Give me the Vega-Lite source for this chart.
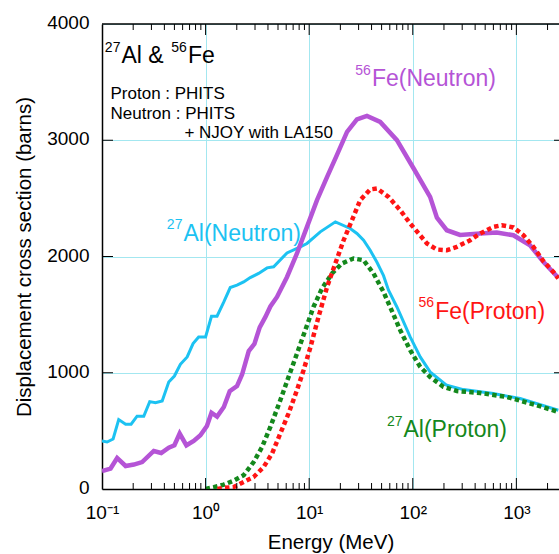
{
  "$schema": "https://vega.github.io/schema/vega-lite/v6.json",
  "width": 457,
  "height": 465,
  "autosize": {"type": "none"},
  "padding": {"left": 102, "top": 24, "right": 0, "bottom": 65},
  "background": "white",
  "config": {
    "view": {"stroke": null},
    "font": "Liberation Sans",
    "axis": {
      "labelFont": "Liberation Sans", "titleFont": "Liberation Sans",
      "labelColor": "black", "titleColor": "black", "titleFontWeight": "normal",
      "domainColor": "black", "domainWidth": 1.5,
      "gridColor": "#a3e7f0", "gridWidth": 1, "gridOpacity": 1
    }
  },
  "datasets": {
    "alN": [
      {"E":0.1,"V":413},{"E":0.112,"V":404},{"E":0.128,"V":430},{"E":0.145,"V":597},{"E":0.169,"V":557},{"E":0.191,"V":557},{"E":0.218,"V":626},{"E":0.253,"V":626},{"E":0.289,"V":752},{"E":0.328,"V":743},{"E":0.381,"V":757},{"E":0.441,"V":921},{"E":0.5,"V":972},{"E":0.571,"V":1073},{"E":0.664,"V":1136},{"E":0.757,"V":1251},{"E":0.857,"V":1308},{"E":1.0,"V":1308},{"E":1.14,"V":1486},{"E":1.29,"V":1486},{"E":1.5,"V":1609},{"E":1.73,"V":1733},{"E":2.01,"V":1753},{"E":2.33,"V":1781},{"E":2.7,"V":1819},{"E":3.25,"V":1854},{"E":3.92,"V":1902},{"E":4.54,"V":1911},{"E":6.11,"V":2031},{"E":8.21,"V":2083},{"E":9.52,"V":2112},{"E":12.8,"V":2212},{"E":17.9,"V":2298},{"E":24.9,"V":2241},{"E":28.9,"V":2198},{"E":33.5,"V":2140},{"E":38.8,"V":2054},{"E":45.1,"V":1950},{"E":52.2,"V":1835},{"E":58.3,"V":1710},{"E":70.3,"V":1566},{"E":94.4,"V":1308},{"E":118,"V":1136},{"E":147,"V":1007},{"E":213,"V":892},{"E":308,"V":855},{"E":600,"V":821},{"E":1087,"V":778},{"E":2540,"V":677}
    ],
    "feN": [
      {"E":0.1,"V":155},{"E":0.121,"V":176},{"E":0.14,"V":267},{"E":0.169,"V":198},{"E":0.203,"V":210},{"E":0.244,"V":232},{"E":0.316,"V":327},{"E":0.373,"V":310},{"E":0.441,"V":356},{"E":0.5,"V":376},{"E":0.562,"V":477},{"E":0.653,"V":376},{"E":0.768,"V":413},{"E":0.891,"V":462},{"E":1.03,"V":542},{"E":1.14,"V":656},{"E":1.29,"V":623},{"E":1.5,"V":706},{"E":1.71,"V":842},{"E":2.01,"V":885},{"E":2.25,"V":985},{"E":2.61,"V":1187},{"E":2.96,"V":1248},{"E":3.33,"V":1390},{"E":3.78,"V":1480},{"E":4.22,"V":1570},{"E":4.89,"V":1652},{"E":6.11,"V":1824},{"E":7.62,"V":2026},{"E":9.52,"V":2255},{"E":11.9,"V":2485},{"E":14.9,"V":2685},{"E":18.5,"V":2872},{"E":23.2,"V":3072},{"E":28.9,"V":3179},{"E":36.1,"V":3210},{"E":48.5,"V":3158},{"E":70.3,"V":3001},{"E":102,"V":2757},{"E":147,"V":2513},{"E":171,"V":2334},{"E":213,"V":2226},{"E":286,"V":2186},{"E":447,"V":2198},{"E":647,"V":2206},{"E":936,"V":2183},{"E":1355,"V":2097},{"E":1820,"V":1954},{"E":2540,"V":1818}
    ],
    "feP": [
      {"E":1.3,"V":0},{"E":1.5,"V":9},{"E":1.87,"V":17},{"E":2.33,"V":60},{"E":2.91,"V":103},{"E":3.63,"V":189},{"E":4.38,"V":305},{"E":5.26,"V":477},{"E":6.32,"V":649},{"E":7.62,"V":849},{"E":8.83,"V":1022},{"E":10.3,"V":1222},{"E":12.3,"V":1480},{"E":14.9,"V":1739},{"E":17.9,"V":1940},{"E":21.5,"V":2140},{"E":25.9,"V":2313},{"E":31.1,"V":2485},{"E":38.8,"V":2577},{"E":45.1,"V":2585},{"E":58.3,"V":2513},{"E":75.7,"V":2398},{"E":94.4,"V":2284},{"E":114,"V":2198},{"E":137,"V":2112},{"E":171,"V":2060},{"E":213,"V":2054},{"E":266,"V":2083},{"E":358,"V":2140},{"E":447,"V":2198},{"E":600,"V":2255},{"E":723,"V":2269},{"E":936,"V":2250},{"E":1169,"V":2183},{"E":1459,"V":2083},{"E":1820,"V":1961},{"E":2275,"V":1867},{"E":2540,"V":1811}
    ],
    "alP": [
      {"E":1.0,"V":0},{"E":1.2,"V":15},{"E":1.5,"V":38},{"E":1.87,"V":72},{"E":2.33,"V":118},{"E":2.91,"V":232},{"E":3.51,"V":361},{"E":4.22,"V":534},{"E":5.26,"V":763},{"E":6.32,"V":964},{"E":7.62,"V":1165},{"E":9.16,"V":1366},{"E":11.0,"V":1566},{"E":13.3,"V":1725},{"E":16.6,"V":1854},{"E":20.7,"V":1940},{"E":26.8,"V":1983},{"E":33.5,"V":1968},{"E":41.8,"V":1854},{"E":52.2,"V":1695},{"E":60.5,"V":1566},{"E":75.7,"V":1366},{"E":94.4,"V":1194},{"E":118,"V":1050},{"E":147,"V":964},{"E":198,"V":878},{"E":266,"V":843},{"E":447,"V":826},{"E":807,"V":792},{"E":1574,"V":720},{"E":2540,"V":663}
    ],
    "labels": [
      {"E":0.154,"V":3664,"text":"27","kind":"sup","s":"title"},
      {"E":0.154,"V":3664,"text":"Al & ","kind":"main","s":"title"},
      {"E":0.675,"V":3664,"text":"56","kind":"sup","s":"title"},
      {"E":0.675,"V":3664,"text":"Fe","kind":"main","s":"title"},
      {"E":0.611,"V":2134,"text":"27","kind":"sup","s":"alN"},
      {"E":0.611,"V":2134,"text":"Al(Neutron)","kind":"main","s":"alN"},
      {"E":40.3,"V":3466,"text":"56","kind":"sup","s":"feN"},
      {"E":40.3,"V":3466,"text":"Fe(Neutron)","kind":"main","s":"feN"},
      {"E":164.4,"V":1466,"text":"56","kind":"sup","s":"feP"},
      {"E":164.4,"V":1466,"text":"Fe(Proton)","kind":"main","s":"feP"},
      {"E":81.3,"V":447,"text":"27","kind":"sup","s":"alP"},
      {"E":81.3,"V":447,"text":"Al(Proton)","kind":"main","s":"alP"}
    ],
    "info": [
      {"E":0.1208,"V":3354,"text":"Proton : PHITS"},
      {"E":0.1208,"V":3182,"text":"Neutron : PHITS"},
      {"E":0.6245,"V":3021,"text":"+ NJOY with LA150"}
    ],
    "xticks": [
      {"E":1,"kind":"major"},{"E":10,"kind":"major"},{"E":100,"kind":"major"},{"E":1000,"kind":"major"},
      {"E":0.2,"kind":"minor"},{"E":0.3,"kind":"minor"},{"E":0.4,"kind":"minor"},{"E":0.5,"kind":"minor"},{"E":0.6,"kind":"minor"},{"E":0.7,"kind":"minor"},{"E":0.8,"kind":"minor"},{"E":0.9,"kind":"minor"},
      {"E":2,"kind":"minor"},{"E":3,"kind":"minor"},{"E":4,"kind":"minor"},{"E":5,"kind":"minor"},{"E":6,"kind":"minor"},{"E":7,"kind":"minor"},{"E":8,"kind":"minor"},{"E":9,"kind":"minor"},
      {"E":20,"kind":"minor"},{"E":30,"kind":"minor"},{"E":40,"kind":"minor"},{"E":50,"kind":"minor"},{"E":60,"kind":"minor"},{"E":70,"kind":"minor"},{"E":80,"kind":"minor"},{"E":90,"kind":"minor"},
      {"E":200,"kind":"minor"},{"E":300,"kind":"minor"},{"E":400,"kind":"minor"},{"E":500,"kind":"minor"},{"E":600,"kind":"minor"},{"E":700,"kind":"minor"},{"E":800,"kind":"minor"},{"E":900,"kind":"minor"},
      {"E":2000,"kind":"minor"}
    ],
    "yticks": [{"V":1000},{"V":2000},{"V":3000}],
    "frame": [{"V":4000}]
  },
  "layer": [
    {
      "data": {"name": "alN"},
      "mark": {"type": "line", "color": "#1cc2f2", "strokeWidth": 3, "clip": true},
      "encoding": {
        "x": {"field": "E", "type": "quantitative",
          "scale": {"type": "log", "domain": [0.1, 2580], "nice": false},
          "axis": {"orient": "bottom", "values": [0.1, 1, 10, 100, 1000],
            "labelExpr": "datum.value < 0.5 ? '10⁻¹' : datum.value < 5 ? '10⁰' : datum.value < 50 ? '10¹' : datum.value < 500 ? '10²' : '10³'",
            "ticks": false, "grid": true, "labelFontSize": 19, "labelPadding": 14,
            "labelFlush": false, "labelOverlap": false,
            "title": "Energy (MeV)", "titleFontSize": 20.5, "titlePadding": 10}},
        "y": {"field": "V", "type": "quantitative",
          "scale": {"domain": [0, 4000], "nice": false},
          "axis": {"orient": "left", "values": [0, 1000, 2000, 3000, 4000], "format": "d",
            "ticks": false, "grid": true, "labelFontSize": 19, "labelPadding": 13, "labelOffset": -1.5,
            "labelFlush": false, "labelOverlap": false,
            "title": "Displacement cross section (barns)", "titleFontSize": 20.5, "titlePadding": 12}}
      }
    },
    {
      "data": {"name": "feN"},
      "mark": {"type": "line", "color": "#b554d6", "strokeWidth": 4.5, "clip": true},
      "encoding": {
        "x": {"field": "E", "type": "quantitative", "axis": null},
        "y": {"field": "V", "type": "quantitative", "axis": null}
      }
    },
    {
      "data": {"name": "alP"},
      "mark": {"type": "line", "color": "#14881c", "strokeWidth": 4.5, "strokeDash": [4.5, 3.2], "clip": true},
      "encoding": {
        "x": {"field": "E", "type": "quantitative", "axis": null},
        "y": {"field": "V", "type": "quantitative", "axis": null}
      }
    },
    {
      "data": {"name": "feP"},
      "mark": {"type": "line", "color": "#ff1414", "strokeWidth": 4.5, "strokeDash": [4.5, 3.2], "clip": true},
      "encoding": {
        "x": {"field": "E", "type": "quantitative", "axis": null},
        "y": {"field": "V", "type": "quantitative", "axis": null}
      }
    },
    {
      "data": {"name": "xticks"},
      "transform": [{"filter": "datum.kind == 'major'"}],
      "layer": [
        {"mark": {"type": "tick", "orient": "vertical", "size": 22, "thickness": 1, "color": "black", "opacity": 1, "clip": true},
         "encoding": {"x": {"field": "E", "type": "quantitative", "axis": null}, "y": {"datum": 0, "type": "quantitative", "axis": null}}},
        {"mark": {"type": "tick", "orient": "vertical", "size": 22, "thickness": 1, "color": "black", "opacity": 1, "clip": true},
         "encoding": {"x": {"field": "E", "type": "quantitative", "axis": null}, "y": {"datum": 4000, "type": "quantitative", "axis": null}}}
      ]
    },
    {
      "data": {"name": "xticks"},
      "transform": [{"filter": "datum.kind == 'minor'"}],
      "layer": [
        {"mark": {"type": "tick", "orient": "vertical", "size": 12, "thickness": 1, "color": "black", "opacity": 1, "clip": true},
         "encoding": {"x": {"field": "E", "type": "quantitative", "axis": null}, "y": {"datum": 0, "type": "quantitative", "axis": null}}},
        {"mark": {"type": "tick", "orient": "vertical", "size": 12, "thickness": 1, "color": "black", "opacity": 1, "clip": true},
         "encoding": {"x": {"field": "E", "type": "quantitative", "axis": null}, "y": {"datum": 4000, "type": "quantitative", "axis": null}}}
      ]
    },
    {
      "data": {"name": "yticks"},
      "layer": [
        {"mark": {"type": "tick", "orient": "horizontal", "size": 22, "thickness": 1, "color": "black", "opacity": 1, "clip": true},
         "encoding": {"y": {"field": "V", "type": "quantitative", "axis": null}, "x": {"datum": 0.1, "type": "quantitative", "axis": null}}},
        {"mark": {"type": "tick", "orient": "horizontal", "size": 10, "thickness": 1, "color": "black", "opacity": 1, "clip": true},
         "encoding": {"y": {"field": "V", "type": "quantitative", "axis": null}, "x": {"datum": 2580, "type": "quantitative", "axis": null}}}
      ]
    },
    {
      "data": {"name": "frame"},
      "mark": {"type": "rule", "color": "black", "strokeWidth": 1.5},
      "encoding": {"y": {"field": "V", "type": "quantitative", "axis": null}}
    },
    {
      "data": {"name": "labels"},
      "transform": [{"filter": "datum.kind == 'sup'"}],
      "mark": {"type": "text", "align": "right", "baseline": "alphabetic", "fontSize": 14, "dy": -11.5, "dx": -1, "font": "Liberation Sans"},
      "encoding": {
        "x": {"field": "E", "type": "quantitative", "axis": null},
        "y": {"field": "V", "type": "quantitative", "axis": null},
        "text": {"field": "text"},
        "color": {"field": "s", "type": "nominal",
          "scale": {"domain": ["title", "alN", "feN", "feP", "alP"], "range": ["#000000", "#1cc2f2", "#b554d6", "#ff1414", "#14881c"]},
          "legend": null}
      }
    },
    {
      "data": {"name": "labels"},
      "transform": [{"filter": "datum.kind == 'main'"}],
      "mark": {"type": "text", "align": "left", "baseline": "alphabetic", "fontSize": 23, "font": "Liberation Sans"},
      "encoding": {
        "x": {"field": "E", "type": "quantitative", "axis": null},
        "y": {"field": "V", "type": "quantitative", "axis": null},
        "text": {"field": "text"},
        "color": {"field": "s", "type": "nominal",
          "scale": {"domain": ["title", "alN", "feN", "feP", "alP"], "range": ["#000000", "#1cc2f2", "#b554d6", "#ff1414", "#14881c"]},
          "legend": null}
      }
    },
    {
      "data": {"name": "info"},
      "mark": {"type": "text", "align": "left", "baseline": "alphabetic", "fontSize": 17, "color": "black", "font": "Liberation Sans"},
      "encoding": {
        "x": {"field": "E", "type": "quantitative", "axis": null},
        "y": {"field": "V", "type": "quantitative", "axis": null},
        "text": {"field": "text"}
      }
    }
  ],
  "resolve": {"axis": {"x": "independent", "y": "independent"}}
}
